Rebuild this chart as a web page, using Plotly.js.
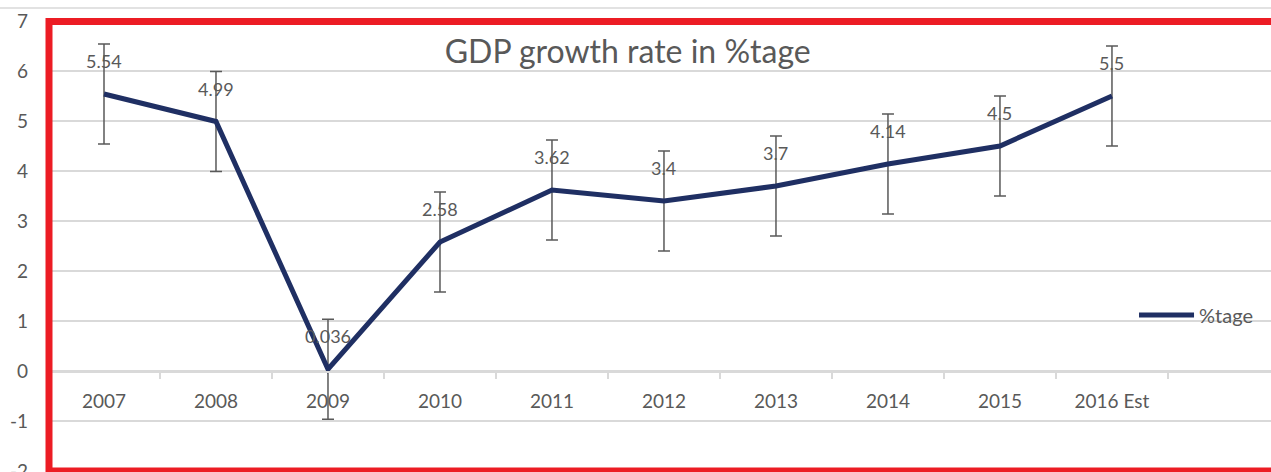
<!DOCTYPE html>
<html>
<head>
<meta charset="utf-8">
<script src="https://cdn.plot.ly/plotly-3.0.1.min.js"></script>
<style>html,body{margin:0;padding:0;background:#fff;}#chart{width:1271px;height:472px;}</style>
</head>
<body>
<div id="chart"></div>
<script>
const categories = ["2007","2008","2009","2010","2011","2012","2013","2014","2015","2016 Est"];
const growth = [5.54, 4.99, 0.036, 2.58, 3.62, 3.4, 3.7, 4.14, 4.5, 5.5];
const labels = ["5.54","4.99","0.036","2.58","3.62","3.4","3.7","4.14","4.5","5.5"];
const yTickVals = [-2, -1, 0, 1, 2, 3, 4, 5, 6, 7];
const yTickText = ["-2", "-1", "0", "1", "2", "3", "4", "5", "6", "7"];
const errorSize = 1;
const seriesName = "%tage";
const titleText = "GDP growth rate in %tage";

const FONT = "Lato, 'Open Sans', sans-serif";
const GREY = "#595959";

const trace = {
  type: "scatter", mode: "lines",
  x: categories, y: growth, name: seriesName,
  line: {color: "#1f2f63", width: 5},
  error_y: {type: "constant", value: errorSize, visible: true, color: GREY, thickness: 1.5, width: 6},
  hoverinfo: "skip"
};

const annotations = categories.map((c, i) => ({
  x: i, y: growth[i], xref: "x", yref: "y", text: labels[i], showarrow: false,
  yshift: 33, font: {family: FONT, size: 18, color: GREY}
}));

const layout = {
  width: 1271, height: 472,
  margin: {l: 48, r: 0, t: 21, b: 0, pad: 0},
  paper_bgcolor: "#fff", plot_bgcolor: "#fff",
  showlegend: true,
  legend: {x: 0.888, y: 0.348, xanchor: "left", yanchor: "middle", bgcolor: "rgba(0,0,0,0)",
           itemwidth: 55, font: {family: FONT, size: 20, color: GREY}},
  title: {text: titleText, x: 0.474, xref: "paper", xanchor: "center", y: 0.931, yref: "paper", yanchor: "middle",
          font: {family: FONT, size: 32, color: GREY}},
  xaxis: {type: "category", range: [-0.5, 10.42], anchor: "free", position: 2.02/9.02,
          tickson: "boundaries", ticks: "outside", ticklen: 6, tickcolor: "#d9d9d9", tickwidth: 1.5,
          showline: true, linecolor: "#d9d9d9", linewidth: 1.5, showgrid: false, zeroline: false,
          tickfont: {family: FONT, size: 19, color: GREY}, ticklabelstandoff: 13},
  yaxis: {range: [-2.02, 7], tickmode: "array", tickvals: yTickVals, ticktext: yTickText,
          showgrid: true, gridcolor: "#d9d9d9", gridwidth: 1.5,
          zeroline: false, showline: false, ticks: "", ticklabelstandoff: 19, ticklabeloverflow: "allow",
          tickfont: {family: FONT, size: 19, color: GREY}},
  annotations: annotations,
  shapes: [
    {type: "line", xref: "paper", yref: "paper", x0: -0.05, x1: 1.01, y0: (472-8)/451, y1: (472-8)/451,
     line: {color: "#d9d9d9", width: 1.5}, layer: "above"},
    {type: "rect", xref: "paper", yref: "paper", x0: 1/1223, x1: 1.05, y0: 1/451, y1: (472-21.5)/451,
     line: {color: "#ec1c24", width: 7}, fillcolor: "rgba(0,0,0,0)", layer: "above"}
  ]
};

Plotly.newPlot("chart", [trace], layout, {displayModeBar: false, staticPlot: true});
</script>
</body>
</html>
